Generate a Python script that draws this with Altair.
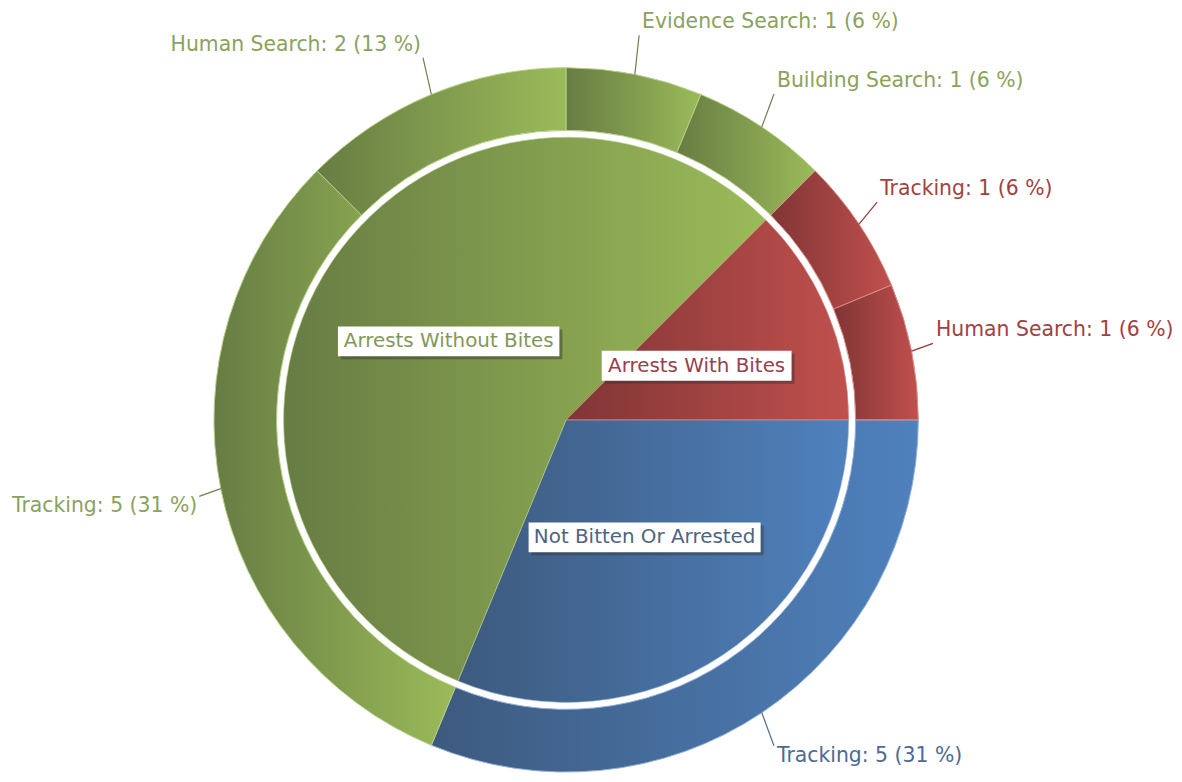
import altair as alt
import pandas as pd

# ---------------- data ----------------
inner_names = ["Not Bitten Or Arrested", "Arrests Without Bites", "Arrests With Bites"]
inner_values = [5, 9, 2]

outer_names = ["Tracking", "Tracking", "Human Search", "Evidence Search",
               "Building Search", "Tracking", "Human Search"]
outer_parents = ["Not Bitten Or Arrested", "Arrests Without Bites", "Arrests Without Bites",
                 "Arrests Without Bites", "Arrests Without Bites",
                 "Arrests With Bites", "Arrests With Bites"]
outer_values = [5, 5, 2, 1, 1, 1, 1]

inner_df = pd.DataFrame({"idx": list(range(len(inner_names))), "name": inner_names,
                         "parent": inner_names, "value": inner_values})
outer_df = pd.DataFrame({"idx": list(range(len(outer_names))), "name": outer_names,
                         "parent": outer_parents, "value": outer_values})

# ---------------- layout / style ----------------
W, H = 1166, 766
CX, CY = 561, 412
R_IN = 284
R_RING = 291
R_OUT = 354
R_LINE = 376
R_LAB = 142
FONT = "DejaVu Sans"

styles = {
    "Not Bitten Or Arrested": dict(dark="#3d5a7e", light="#4f81bd", sep="#8fb0d8",
                                   text="#4d6a94", line="#4e6a90", inner_text="#4d6483"),
    "Arrests Without Bites": dict(dark="#677c43", light="#9bbb59", sep="#b5d085",
                                  text="#8ba25c", line="#6f7f4f", inner_text="#84975a"),
    "Arrests With Bites": dict(dark="#803535", light="#c0504d", sep="#d98c8a",
                               text="#a04242", line="#8f3838", inner_text="#99404a"),
}


def angles(df):
    return (alt.Chart(df)
            .transform_joinaggregate(total="sum(value)")
            .transform_window(cum="sum(value)", sort=[alt.SortField("idx")], frame=[None, 0])
            .transform_calculate(
                a0="PI/2 + 2*PI*(datum.cum - datum.value)/datum.total",
                a1="PI/2 + 2*PI*datum.cum/datum.total")
            .transform_calculate(mid="(datum.a0 + datum.a1)/2")
            .transform_calculate(s="sin(datum.mid)", c="cos(datum.mid)"))


inner_base = angles(inner_df)
outer_base = angles(outer_df).transform_calculate(
    label="datum.name + ': ' + datum.value + ' (' + round(datum.value/datum.total*100) + ' %)'",
    lx0=f"{CX} + {R_OUT}*datum.s", ly0=f"{CY} - {R_OUT}*datum.c",
    lx1=f"{CX} + {R_LINE}*datum.s", ly1=f"{CY} - ({R_LINE} + 18)*datum.c",
).transform_calculate(
    tx="datum.s >= 0 ? datum.lx1 + 3 : datum.lx1 - 2",
    ty="datum.c > 0 ? datum.ly1 - 13 : datum.ly1 + 10",
)

inner_lab = inner_base.transform_calculate(
    px=f"{CX} + {R_LAB}*datum.s", py=f"{CY} - {R_LAB}*datum.c",
    bw="length(datum.name)*10.6",
).transform_calculate(
    bx0="datum.px - datum.bw/2", bx1="datum.px + datum.bw/2",
    by0="datum.py - 15", by1="datum.py + 15",
).transform_calculate(
    sx0="datum.bx0 + 3", sx1="datum.bx1 + 3", sy0="datum.by0 + 3", sy1="datum.by1 + 3",
)


def grad(dark, light):
    return alt.LinearGradient(gradient="linear", x1=0, x2=1, y1=0, y2=0,
                              stops=[alt.GradientStop(color=dark, offset=0),
                                     alt.GradientStop(color=light, offset=1)])


layers = []
theta_enc = dict(theta=alt.Theta("a0:Q", scale=None, stack=None), theta2=alt.Theta2("a1:Q"),
                 x=alt.value(CX), y=alt.value(CY))

for p, st in styles.items():
    layers.append(outer_base.transform_filter(alt.datum.parent == p).mark_arc(
        outerRadius=R_OUT, innerRadius=R_RING, fill=grad(st["dark"], st["light"]),
        stroke=st["sep"], strokeWidth=1).encode(**theta_enc))
for p, st in styles.items():
    layers.append(inner_base.transform_filter(alt.datum.parent == p).mark_arc(
        outerRadius=R_IN, innerRadius=0, fill=grad(st["dark"], st["light"]),
        stroke=st["sep"], strokeWidth=0.6).encode(**theta_enc))

# leader lines and outer labels
for p, st in styles.items():
    sub = outer_base.transform_filter(alt.datum.parent == p)
    layers.append(sub.mark_rule(color=st["line"], strokeWidth=1.2).encode(
        x=alt.X("lx0:Q", scale=None), y=alt.Y("ly0:Q", scale=None),
        x2="lx1:Q", y2="ly1:Q"))
    layers.append(sub.transform_filter("datum.s >= 0").mark_text(
        align="left", baseline="middle", font=FONT, fontSize=20.5, color=st["text"]).encode(
        x=alt.X("tx:Q", scale=None), y=alt.Y("ty:Q", scale=None), text="label:N"))
    layers.append(sub.transform_filter("datum.s < 0").mark_text(
        align="right", baseline="middle", font=FONT, fontSize=20.5, color=st["text"]).encode(
        x=alt.X("tx:Q", scale=None), y=alt.Y("ty:Q", scale=None), text="label:N"))

# inner label boxes
layers.append(inner_lab.mark_rect(color="#333333", opacity=0.45).encode(
    x=alt.X("sx0:Q", scale=None), x2="sx1:Q", y=alt.Y("sy0:Q", scale=None), y2="sy1:Q"))
layers.append(inner_lab.mark_rect(color="#ffffff").encode(
    x=alt.X("bx0:Q", scale=None), x2="bx1:Q", y=alt.Y("by0:Q", scale=None), y2="by1:Q"))
for p, st in styles.items():
    layers.append(inner_lab.transform_filter(alt.datum.parent == p).mark_text(
        align="center", baseline="middle", font=FONT, fontSize=20, color=st["inner_text"]).encode(
        x=alt.X("px:Q", scale=None), y=alt.Y("py:Q", scale=None), text="name:N"))

chart = alt.layer(*layers).properties(width=W, height=H).configure(
    padding=0, background="#ffffff").configure_view(stroke=None)

chart.save("out.html", embed_options={"renderer": "svg", "actions": False})
